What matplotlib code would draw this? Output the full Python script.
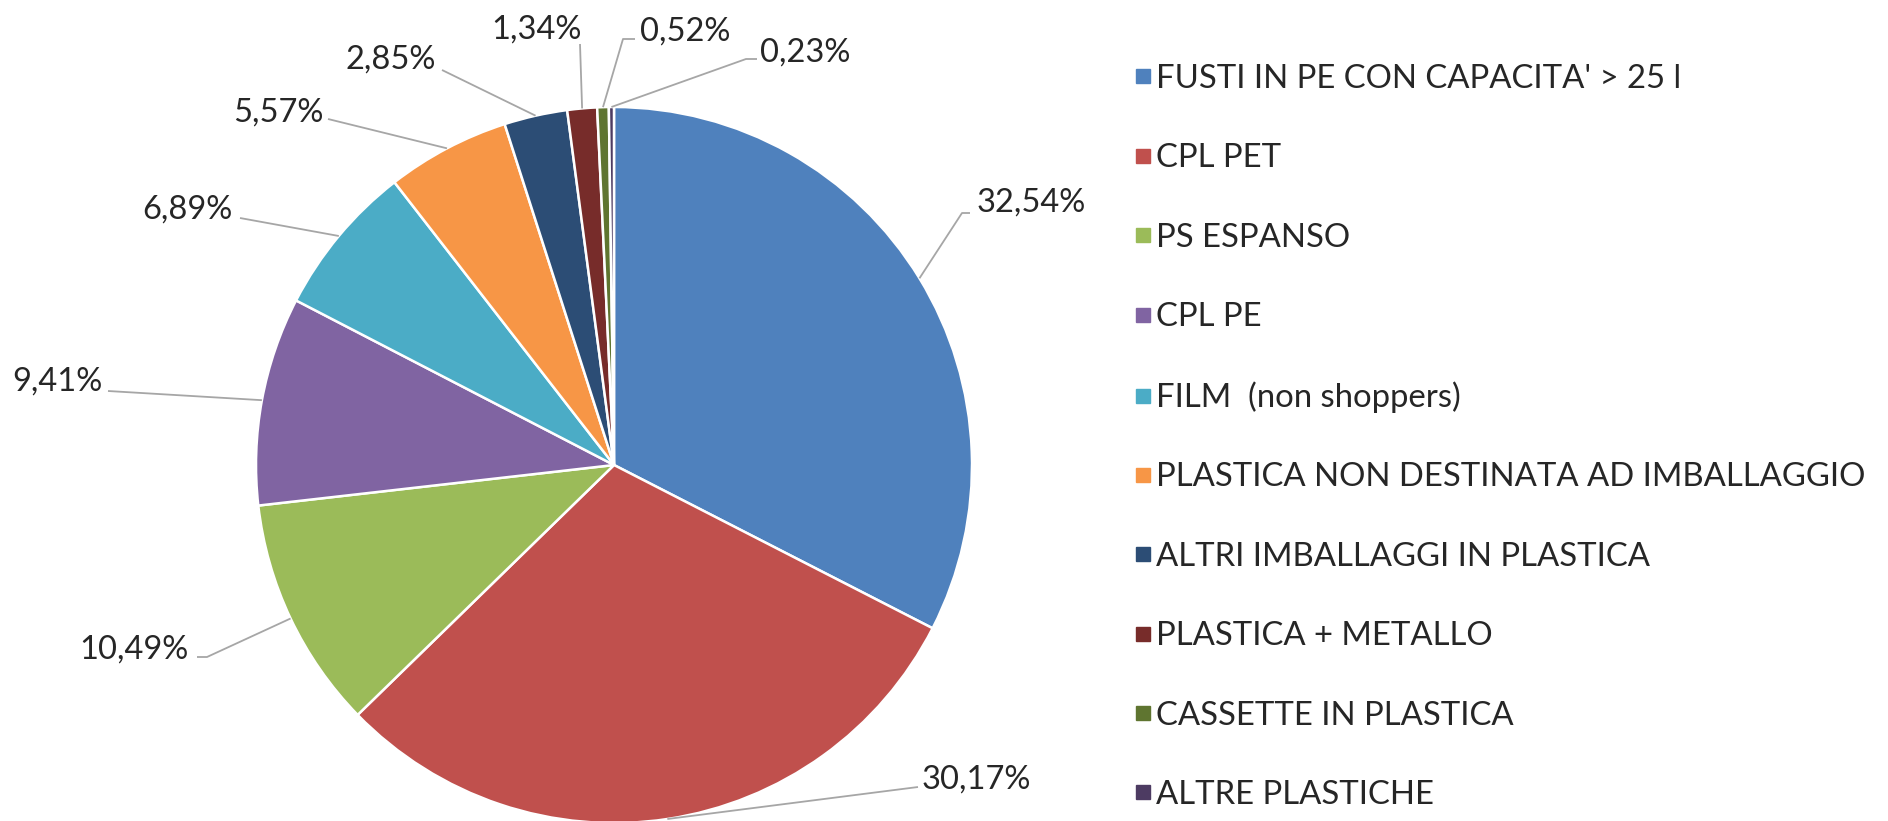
import matplotlib
matplotlib.use("Agg")
import matplotlib.pyplot as plt
from matplotlib.lines import Line2D
import numpy as np

plt.rcParams['font.family'] = ['Lato', 'DejaVu Sans']

categories = ["FUSTI IN PE CON CAPACITA' > 25 l", "CPL PET", "PS ESPANSO", "CPL PE",
              "FILM  (non shoppers)", "PLASTICA NON DESTINATA AD IMBALLAGGIO",
              "ALTRI IMBALLAGGI IN PLASTICA", "PLASTICA + METALLO",
              "CASSETTE IN PLASTICA", "ALTRE PLASTICHE"]
values = [32.54, 30.17, 10.49, 9.41, 6.89, 5.57, 2.85, 1.34, 0.52, 0.23]
pct_labels = ["32,54%", "30,17%", "10,49%", "9,41%", "6,89%", "5,57%",
              "2,85%", "1,34%", "0,52%", "0,23%"]
colors = ["#4F81BD", "#C0504D", "#9BBB59", "#8064A2", "#4BACC6", "#F79646",
          "#2C4D75", "#772C2A", "#5F7530", "#4D3B62"]

W, H = 1888, 821
fig = plt.figure(figsize=(W / 100, H / 100), dpi=100)
ax = fig.add_axes([0, 0, 1, 1])

cx, cy, R = 614, H - 465, 358
wedges, _ = ax.pie(values, colors=colors, startangle=90, counterclock=False,
                   center=(cx, cy), radius=R, frame=True,
                   wedgeprops=dict(edgecolor='white', linewidth=1.8))
ax.set_xlim(0, W)
ax.set_ylim(0, H)
ax.set_aspect('equal')
ax.axis('off')

# label layout (pixel positions, y from top): (x, y, ha, attach points)
layout = [
    (977, 203, 'left', [(970, 213), (962, 213)]),
    (922, 780, 'left', [(918, 787)]),
    (189, 650, 'right', [(197, 657), (207, 657)]),
    (102, 382, 'right', [(108, 391)]),
    (233, 210, 'right', [(240, 218)]),
    (323, 113, 'right', [(328, 119)]),
    (436, 60, 'right', [(442, 70)]),
    (582, 30, 'right', [(580, 44)]),
    (640, 32, 'left', [(635, 39), (623, 39)]),
    (760, 53, 'left', [(757, 59), (746, 59)]),
]

for w, lab, (tx, ty, ha, pts) in zip(wedges, pct_labels, layout):
    mid = np.deg2rad((w.theta1 + w.theta2) / 2)
    ex, ey = cx + R * np.cos(mid), cy + R * np.sin(mid)
    xs = [p[0] for p in pts] + [ex]
    ys = [H - p[1] for p in pts] + [ey]
    ax.plot(xs, ys, color='#A6A6A6', lw=1.3, zorder=1, solid_capstyle='butt')
    ax.text(tx, H - ty, lab, ha=ha, va='center', fontsize=23.5, color='#262626')

handles = [Line2D([], [], marker='s', linestyle='none', markersize=9.5,
                  markerfacecolor=c, markeredgecolor=c) for c in colors]
leg = ax.legend(handles, categories, loc='upper left',
                bbox_to_anchor=(1136 / W, 1 - 64 / H), bbox_transform=fig.transFigure,
                frameon=False, fontsize=23.7, handlelength=0.4, handletextpad=0.22,
                labelspacing=1.50, borderpad=0, borderaxespad=0)
for t in leg.get_texts():
    t.set_color('#262626')

fig.savefig('out.png', dpi=100, facecolor='white')
